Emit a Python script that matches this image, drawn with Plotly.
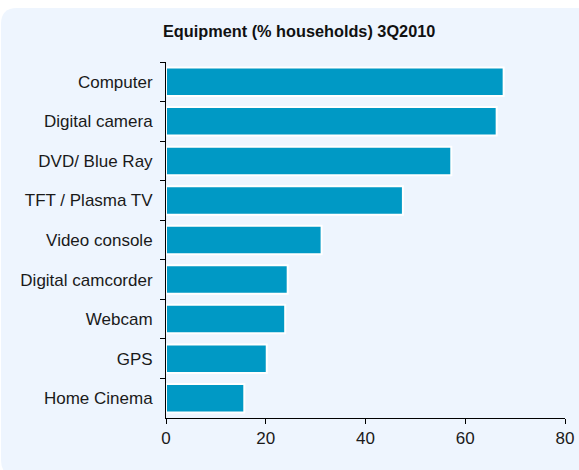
import plotly.graph_objects as go

categories = ["Computer", "Digital camera", "DVD/ Blue Ray", "TFT / Plasma TV",
              "Video console", "Digital camcorder", "Webcam", "GPS", "Home Cinema"]
values = [67.7, 66.3, 57.2, 47.5, 31.2, 24.4, 23.9, 20.2, 15.7]
x_ticks = [0, 20, 40, 60, 80]
title_text = "Equipment (% households) 3Q2010"

W, H = 579, 470
L, R, T, B = 166, 565, 62, 418

def px(x):
    return (x - L) / (R - L)

def py(y):
    return (B - y) / (B - T)

fig = go.Figure()
fig.add_trace(go.Bar(
    x=values, y=categories, orientation="h",
    marker=dict(color="#0099C5", line=dict(color="white", width=2)),
    width=0.72,
))

# rounded light-blue background panel
x0, y0, x1, y1, r = 1, 8, 620, 476, 16
path = (f"M {px(x0)},{py(y0 + r)} Q {px(x0)},{py(y0)} {px(x0 + r)},{py(y0)} "
        f"L {px(x1)},{py(y0)} L {px(x1)},{py(y1)} L {px(x0 + r)},{py(y1)} "
        f"Q {px(x0)},{py(y1)} {px(x0)},{py(y1 - r)} Z")
fig.add_shape(type="path", path=path, xref="paper", yref="paper",
              fillcolor="#EEF5FE", line=dict(width=0), layer="below")

fig.update_layout(
    width=W, height=H,
    margin=dict(l=L, r=W - R, t=T, b=H - B),
    paper_bgcolor="white", plot_bgcolor="rgba(0,0,0,0)",
    font=dict(family="Liberation Sans, Arial, sans-serif", size=16, color="#1a1a1a"),
    showlegend=False,
    annotations=[dict(text=f"<b>{title_text}</b>", x=px(299), y=py(31),
                      xref="paper", yref="paper", showarrow=False,
                      font=dict(size=16.3, color="#111111"), xanchor="center", yanchor="middle")],
)
fig.update_xaxes(range=[0, 80], tickvals=x_ticks, showgrid=False, zeroline=False,
                 showline=True, linecolor="black", linewidth=1,
                 ticks="outside", ticklen=5, tickcolor="black",
                 tickfont=dict(size=17), automargin=False)
fig.update_yaxes(autorange="reversed", showgrid=False, zeroline=False,
                 showline=True, linecolor="black", linewidth=1,
                 ticks="outside", ticklen=5, tickcolor="black", tickson="boundaries",
                 tickfont=dict(size=17), ticklabelstandoff=9, automargin=False)

fig.write_html("out.html", config={"displayModeBar": False},
               post_script="document.body.style.margin='0px';document.body.style.padding='0px';")
